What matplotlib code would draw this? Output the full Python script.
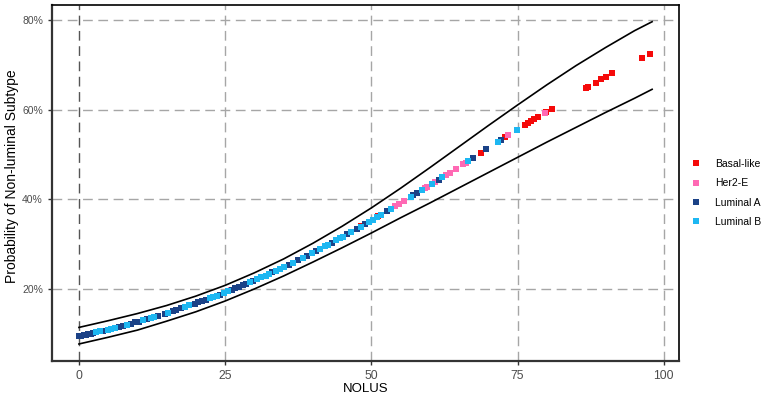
import numpy as np
import matplotlib
matplotlib.use("Agg")
from matplotlib import pyplot as plt
from matplotlib.lines import Line2D

plt.rcParams['font.family'] = ['Liberation Sans', 'DejaVu Sans']

# fitted curve: confidence limits (percent)
band_x = [0, 5, 10, 15, 20, 25, 30, 35, 40, 45, 50, 55, 60, 65, 70, 75, 80, 85, 90, 95, 98]
upper = [11.4, 12.9, 14.5, 16.3, 18.4, 20.8, 23.6, 26.7, 30.2, 34.0, 38.1,
         42.5, 47.1, 51.8, 56.5, 61.1, 65.6, 69.9, 73.9, 77.7, 79.7]
lower = [7.7, 9.2, 10.8, 12.8, 14.9, 17.3, 20.0, 22.9, 26.0, 29.2, 32.5,
         35.9, 39.2, 42.6, 46.0, 49.4, 52.8, 56.1, 59.4, 62.6, 64.6]

# samples, NOLUS and predicted probability (percent)
basal_x = [48.3, 51.2, 68.7, 72.9, 76.2, 76.8, 77.3, 77.8, 78.5, 79.9, 80.8,
           86.7, 87.1, 88.4, 89.3, 90.2, 91.2, 96.2, 97.6]
basal_y = [34.0, 36.2, 50.4, 53.9, 56.6, 57.1, 57.5, 57.9, 58.5, 59.6, 60.3,
           64.8, 65.1, 66.1, 66.8, 67.4, 68.2, 71.7, 72.6]

her2_x = [26.0, 40.5, 47.6, 54.1, 54.7, 55.5, 59.2, 59.5, 60.8, 62.8, 63.4,
          64.4, 65.7, 66.1, 73.4, 79.7]
her2_y = [19.7, 28.5, 33.5, 38.5, 39.0, 39.6, 42.6, 42.8, 43.8, 45.5, 46.0,
          46.8, 47.9, 48.2, 54.3, 59.4]

luma_x = [0, 0.4, 0.8, 1.2, 1.6, 2.0, 2.4, 4.2, 6.8, 7.6, 8.9, 9.6, 10.3, 11.6,
          13.6, 14.7, 16.0, 16.6, 17.5, 19.8, 20.4, 21.0, 21.7, 24.1, 26.2,
          26.7, 27.3, 28.0, 28.6, 29.8, 33.0, 35.9, 37.5, 39.0, 40.6, 43.2,
          45.8, 47.5, 48.9, 52.7, 57.1, 57.8, 61.5, 67.4, 69.6, 72.2]
luma_y = [9.4, 9.5, 9.6, 9.8, 9.9, 10.0, 10.1, 10.7, 11.5, 11.8, 12.2, 12.5,
          12.7, 13.2, 14.0, 14.5, 15.0, 15.3, 15.7, 16.7, 17.0, 17.2, 17.6,
          18.7, 19.8, 20.1, 20.4, 20.8, 21.1, 21.8, 23.7, 25.4, 26.5, 27.4,
          28.5, 30.3, 32.2, 33.4, 34.5, 37.4, 40.9, 41.4, 44.4, 49.3, 51.2, 53.3]

lumb_x = [3.0, 3.6, 4.9, 5.5, 6.1, 8.3, 11.0, 12.3, 12.9, 15.3, 18.2, 18.9,
          22.4, 23.0, 23.6, 24.8, 25.5, 29.2, 30.5, 31.2, 31.9, 32.5, 33.7,
          34.3, 35.0, 36.6, 38.3, 39.8, 41.3, 42.0, 42.6, 44.0, 44.7, 45.1,
          46.5, 48.2, 49.6, 50.3, 51.0, 51.7, 53.4, 56.7, 58.7, 60.4, 62.1,
          66.5, 71.6, 74.9]
lumb_y = [10.3, 10.5, 10.9, 11.1, 11.3, 12.0, 13.0, 13.5, 13.8, 14.7, 16.0,
          16.3, 17.9, 18.2, 18.5, 19.1, 19.5, 21.5, 22.2, 22.6, 23.0, 23.4,
          24.1, 24.5, 24.9, 25.9, 27.0, 28.0, 29.0, 29.5, 29.9, 30.9, 31.4,
          31.7, 32.7, 33.9, 35.0, 35.5, 36.0, 36.6, 37.9, 40.6, 42.2, 43.5,
          44.9, 48.5, 52.8, 55.5]

groups = ['Basal-like', 'Her2-E', 'Luminal A', 'Luminal B']
colors = ['#F50A0A', '#FF69B4', '#1B4287', '#1DB7F2']
x_ticks = [0, 25, 50, 75, 100]
y_ticks = [20, 40, 60, 80]

fig = plt.figure(figsize=(7.65, 3.97), dpi=100)
ax = fig.add_axes([0.068, 0.0907, 0.8196, 0.8963])

# grid
for xv in x_ticks:
    ax.axvline(xv, color='#555555' if xv == 0 else '#A6A6A6', lw=1.0,
               ls=(0, (7, 4)), zorder=0)
for yv in y_ticks:
    ax.axhline(yv, color='#A6A6A6', lw=1.0, ls=(0, (7, 4)), zorder=0)

ax.plot(band_x, upper, color='black', lw=1.2, zorder=2)
ax.plot(band_x, lower, color='black', lw=1.2, zorder=2)

data = [(basal_x, basal_y), (her2_x, her2_y), (luma_x, luma_y), (lumb_x, lumb_y)]
for (xs, ys), c in zip(data, colors):
    ax.scatter(xs, ys, marker='s', s=20, color=c, linewidths=0, zorder=3)

ax.set_xlim(-4.6, 102.6)
ax.set_ylim(3.9, 83.4)
ax.set_xticks(x_ticks)
ax.set_yticks(y_ticks)
ax.set_yticklabels(['%d%%' % v for v in y_ticks])
ax.tick_params(length=3, width=1, color='#333333', labelcolor='#4D4D4D')
ax.tick_params(axis='x', labelsize=8.7)
ax.tick_params(axis='y', labelsize=7.5)

for s in ['top', 'right']:
    ax.spines[s].set_color('black')
    ax.spines[s].set_linewidth(1.2)
for s in ['left', 'bottom']:
    ax.spines[s].set_color('#333333')
    ax.spines[s].set_linewidth(1.6)

ax.set_xlabel('NOLUS', fontsize=9.5, labelpad=1)
ax.set_ylabel('Probability of Non-luminal Subtype', fontsize=10)
ax.yaxis.set_label_coords(-0.053, 0.52)

handles = [Line2D([], [], ls='none', marker='s', markersize=4, color=c, markeredgewidth=0)
           for c in colors]
fig.legend(handles, groups, loc='center left', bbox_to_anchor=(0.891, 0.514),
           frameon=False, fontsize=7.5, handlelength=1.0, handletextpad=1.3,
           labelspacing=0.9)

fig.savefig('out.png', dpi=100)
